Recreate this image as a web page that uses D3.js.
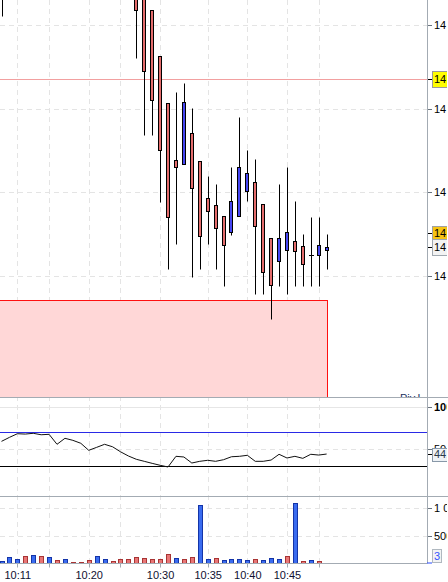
<!DOCTYPE html>
<html><head><meta charset="utf-8">
<script src="https://cdn.jsdelivr.net/npm/d3@7"></script>
<style>body{margin:0;background:#fff;} svg{display:block;font-family:"Liberation Sans",Arial,sans-serif;}</style>
</head><body><svg id="c" width="448" height="582"></svg>
<script>
// ---- data ----
const opens  = [14464.0,14466.5,14469.0,14471.5,14470.5,14473.0,14471.5,14473.5,14469.0,14471.5,14470.0,14468.5,14466.0,14467.5,14468.5,14467.0,14465.0,
                14464.5,14463.5,14461.76,14456.33,14450.62,14443.83,14443.35,14447.06,14443.71,14439.29,14438.45,14437.14,14435.30,14437.14,14440.12,14441.20,14438.57,14434.51,14431.76,14433.07,14434.15,14433.55,14432.47,14432.47,14433.07];
const highs  = [14467.0,14470.0,14472.5,14472.0,14474.0,14473.5,14474.5,14474.0,14472.5,14472.0,14470.5,14469.0,14468.5,14469.5,14469.0,14467.5,14465.5,
                14465.5,14464.0,14461.76,14456.33,14450.62,14452.03,14453.10,14450.04,14443.71,14441.92,14441.00,14437.14,14443.03,14449.00,14445.02,14443.95,14438.57,14434.51,14440.96,14442.99,14438.93,14434.98,14437.02,14437.02,14434.98];
const lows   = [14461.08,14465.0,14468.0,14469.5,14470.0,14471.0,14471.0,14468.5,14468.5,14469.5,14468.0,14465.5,14465.5,14467.0,14466.5,14464.5,14463.5,
                14456.02,14446.85,14446.85,14438.88,14430.87,14433.83,14443.35,14429.92,14430.87,14433.83,14430.87,14428.84,14434.94,14437.14,14438.93,14427.88,14427.88,14424.90,14428.84,14427.88,14428.84,14428.84,14428.84,14428.84,14430.87];
const closes = [14466.5,14469.0,14471.5,14470.5,14473.0,14471.5,14473.5,14469.0,14471.5,14470.0,14468.5,14466.0,14467.5,14468.5,14467.0,14465.0,14464.0,
                14461.76,14454.47,14451.04,14445.02,14437.02,14442.99,14450.76,14440.48,14434.75,14437.73,14435.70,14433.67,14438.93,14442.99,14442.28,14435.94,14430.44,14428.89,14434.51,14435.22,14432.95,14431.40,14432.47,14433.67,14433.43];
const volumes = [47,109,73,133,145,133,109,55,73,18,18,55,127,73,36,73,73,109,91,73,73,164,91,73,109,1055,73,91,55,73,73,55,73,55,91,73,127,1091,36,55,36,3];
const volumeUp = [1,1,1,0,1,0,1,0,1,0,0,0,1,1,0,0,0,0,0,0,0,0,1,0,0,1,1,0,1,1,1,1,0,1,1,1,0,1,0,1,0,1];
const rsi = [59.4,64.1,68.4,68.0,68.9,67.2,67.7,55.9,63.0,60.6,57.1,48.8,52.3,55.9,53.0,47.1,42.1,38.2,35.8,33.4,31.1,29.1,
             41.7,40.9,33.8,35.8,37.0,35.8,37.7,41.2,41.7,42.9,35.8,35.8,37.3,44.1,39.7,41.7,39.3,44.1,43.2,44.4];
const timeTickIndex  = [2,6,11,15,20,26,31,36,40];
const timeTickLabels = ["10:11","","10:20","","10:30","10:35","10:40","10:45",""];
const priceTicks = [14460,14450,14440,14430];
const rsiTicks = [100,50];
const rsiLevels = [70,30];
const volumeTicks = [1000,500];
const pivotLevel = 14453.51;
const askPrice = 14435.18;
const zonePrices = [14427.10,14405];
const zoneIndex = [-3,41.1];

// ---- layout ----
const W=448, H=582, AX=427;
const P1=[0,397], P2=[397,496], P3=[496,563];
const svg=d3.select("#c");
const x=d3.scaleLinear().domain([0,41]).range([1.5,1.5+41*7.93]);
const y=d3.scaleLinear().domain([14430,14460]).range([276,25]);
const yr=d3.scaleLinear().domain([0,100]).range([491.6,407]);
const yv=d3.scaleLinear().domain([0,1000]).range([563.3,508.3]);
const cr=v=>Math.round(v)+0.5;
const fmtP=v=>d3.format(",.2f")(v).replace(",", " ").replace(".", ",");
const fmtV=v=>d3.format(",")(v).replace(/,/g," ");

const defs=svg.append("defs");
function clip(id,y0,y1,x1){defs.append("clipPath").attr("id",id).append("rect").attr("x",0).attr("y",y0).attr("width",x1).attr("height",y1-y0);}
clip("c1",P1[0],P1[1],AX);clip("c2",P2[0],P2[1],AX);clip("c3",P3[0],P3[1]+1,AX);
clip("cl",0,H,447);

const grid="#e4e4e4";
// vertical grid
const vg=svg.append("g");
timeTickIndex.forEach(i=>{
  vg.append("line").attr("x1",cr(x(i))).attr("x2",cr(x(i))).attr("y1",0).attr("y2",P3[1])
    .attr("stroke",grid).attr("stroke-dasharray","5,4");
});

// ---- main panel ----
const g1=svg.append("g").attr("clip-path","url(#c1)");
priceTicks.forEach(p=>g1.append("line").attr("x1",0).attr("x2",AX).attr("y1",cr(y(p))).attr("y2",cr(y(p)))
  .attr("stroke",grid).attr("stroke-dasharray","5,4"));
// zone
g1.append("rect").attr("x",x(zoneIndex[0])).attr("y",cr(y(zonePrices[0])))
  .attr("width",cr(x(zoneIndex[1]))-x(zoneIndex[0])).attr("height",y(zonePrices[1])-y(zonePrices[0]))
  .attr("fill","#ffd7d7").attr("stroke","#ff1010").attr("stroke-width",1);
// pivot line
g1.append("line").attr("x1",0).attr("x2",AX).attr("y1",cr(y(pivotLevel))).attr("y2",cr(y(pivotLevel)))
  .attr("stroke","#f2a0a0");
g1.append("text").attr("x",400).attr("y",402).attr("font-size",11).attr("fill","#203060").text("Piv.L");
// candles
const idx=d3.range(opens.length);
idx.forEach(i=>{
  const px=Math.round(x(i));
  g1.append("line").attr("x1",px+0.5).attr("x2",px+0.5).attr("y1",cr(y(highs[i]))).attr("y2",cr(y(lows[i])))
    .attr("stroke","#000");
});
idx.forEach(i=>{
  const px=Math.round(x(i));
  const t=cr(y(Math.max(opens[i],closes[i]))), b=cr(y(Math.min(opens[i],closes[i])));
  if(b-t<1){
    g1.append("line").attr("x1",px-2).attr("x2",px+3).attr("y1",t).attr("y2",t).attr("stroke","#000");
  } else {
    g1.append("rect").attr("x",px-1.5).attr("y",t).attr("width",3).attr("height",b-t)
      .attr("fill",closes[i]>=opens[i]?"#4646f2":"#e46c6c").attr("stroke","#000");
  }
});

// ---- indicator panel ----
const g2=svg.append("g").attr("clip-path","url(#c2)");
g2.append("line").attr("x1",0).attr("x2",AX).attr("y1",cr(yr(100))).attr("y2",cr(yr(100))).attr("stroke","#e6e6e6");
g2.append("line").attr("x1",0).attr("x2",AX).attr("y1",cr(yr(50))).attr("y2",cr(yr(50))).attr("stroke",grid).attr("stroke-dasharray","5,4");
g2.append("line").attr("x1",0).attr("x2",AX).attr("y1",cr(yr(rsiLevels[0]))).attr("y2",cr(yr(rsiLevels[0]))).attr("stroke","#2a2ae6");
g2.append("line").attr("x1",0).attr("x2",AX).attr("y1",cr(yr(rsiLevels[1]))).attr("y2",cr(yr(rsiLevels[1]))).attr("stroke","#000");
g2.append("path").datum(rsi).attr("fill","none").attr("stroke","#111").attr("stroke-width",1)
  .attr("d",d3.line().x((d,i)=>x(i)).y(d=>yr(d)));

// ---- volume panel ----
const g3=svg.append("g").attr("clip-path","url(#c3)");
volumeTicks.forEach(v=>g3.append("line").attr("x1",0).attr("x2",AX).attr("y1",cr(yv(v))).attr("y2",cr(yv(v)))
  .attr("stroke",grid).attr("stroke-dasharray","5,4"));
volumes.forEach((v,i)=>{
  const px=Math.round(x(i));
  const t=cr(yv(v)), b=563.5;
  if(b-t<1) return;
  g3.append("rect").attr("x",px-1.5).attr("y",t).attr("width",4).attr("height",b-t)
    .attr("fill",volumeUp[i]?"#3a6cf0":"#e87676").attr("stroke",volumeUp[i]?"#1434a8":"#a83434");
});

// ---- frame lines ----
const fr="#a3abb3";
svg.append("line").attr("x1",0).attr("x2",W).attr("y1",397.5).attr("y2",397.5).attr("stroke",fr);
svg.append("line").attr("x1",0).attr("x2",W).attr("y1",496.5).attr("y2",496.5).attr("stroke",fr);
svg.append("line").attr("x1",0).attr("x2",AX).attr("y1",563.5).attr("y2",563.5).attr("stroke",fr);
svg.append("line").attr("x1",AX+0.5).attr("x2",AX+0.5).attr("y1",0).attr("y2",563.5).attr("stroke",fr);

// ---- right axis labels ----
const ra=svg.append("g").attr("clip-path","url(#cl)").attr("font-size",11);
function tick(yy,col){ra.append("line").attr("x1",AX+1).attr("x2",AX+5).attr("y1",cr(yy)).attr("y2",cr(yy)).attr("stroke",col||"#6a747e");}
function lab(yy,txt,opt){opt=opt||{};ra.append("text").attr("x",434).attr("y",yy).attr("dy","0.36em")
  .attr("fill",opt.fill||"#000").attr("font-weight",opt.bold?"bold":null).text(txt);}
priceTicks.forEach(p=>{tick(y(p));lab(y(p),fmtP(p));});
rsiTicks.forEach(v=>{tick(yr(v));lab(yr(v),fmtV(v),{bold:v===100});});
volumeTicks.forEach(v=>{tick(yv(v));lab(yv(v),fmtV(v));});
function box(yy,h,fill,stroke,txt,tcol,w){
  ra.append("line").attr("x1",AX+1).attr("x2",AX+5).attr("y1",cr(yy)).attr("y2",cr(yy)).attr("stroke","#000");
  ra.append("rect").attr("x",432.5).attr("y",Math.round(yy-h/2)+0.5).attr("width",w||20).attr("height",h)
    .attr("fill",fill).attr("stroke",stroke);
  ra.append("text").attr("x",434).attr("y",yy).attr("dy","0.36em").attr("fill",tcol||"#000").text(txt);
}
box(y(pivotLevel),16,"#ffff00","#9a9a9a",fmtP(pivotLevel));
box(y(askPrice),14,"#f6c412","#a0a0a0",fmtP(askPrice));
box(y(closes[closes.length-1]),16,"#f3f3f3","#a0a8b0",fmtP(closes[closes.length-1]));
box(yr(rsi[rsi.length-1]),13,"#eef2f6","#8898a8",d3.format(".2f")(rsi[rsi.length-1]).replace(".",","),"#2a3a4a");
// current volume
ra.append("rect").attr("x",432.5).attr("y",549.5).attr("width",9).attr("height",13).attr("fill","#f3f3f3").attr("stroke","#b0b8c0");
ra.append("text").attr("x",434).attr("y",556).attr("dy","0.36em").attr("fill","#3355ff").text(fmtV(volumes[volumes.length-1]));
ra.append("line").attr("x1",AX).attr("x2",AX+5).attr("y1",563).attr("y2",563).attr("stroke","#2a4cff");

// ---- time axis ----
const ta=svg.append("g").attr("font-size",11).attr("fill","#101030");
timeTickIndex.forEach((i,k)=>{
  ta.append("line").attr("x1",cr(x(i))).attr("x2",cr(x(i))).attr("y1",563.5).attr("y2",567.5).attr("stroke",fr);
  if(timeTickLabels[k]) ta.append("text").attr("x",x(i)+0.5).attr("y",579).attr("text-anchor","middle").text(timeTickLabels[k]);
});
</script></body></html>
